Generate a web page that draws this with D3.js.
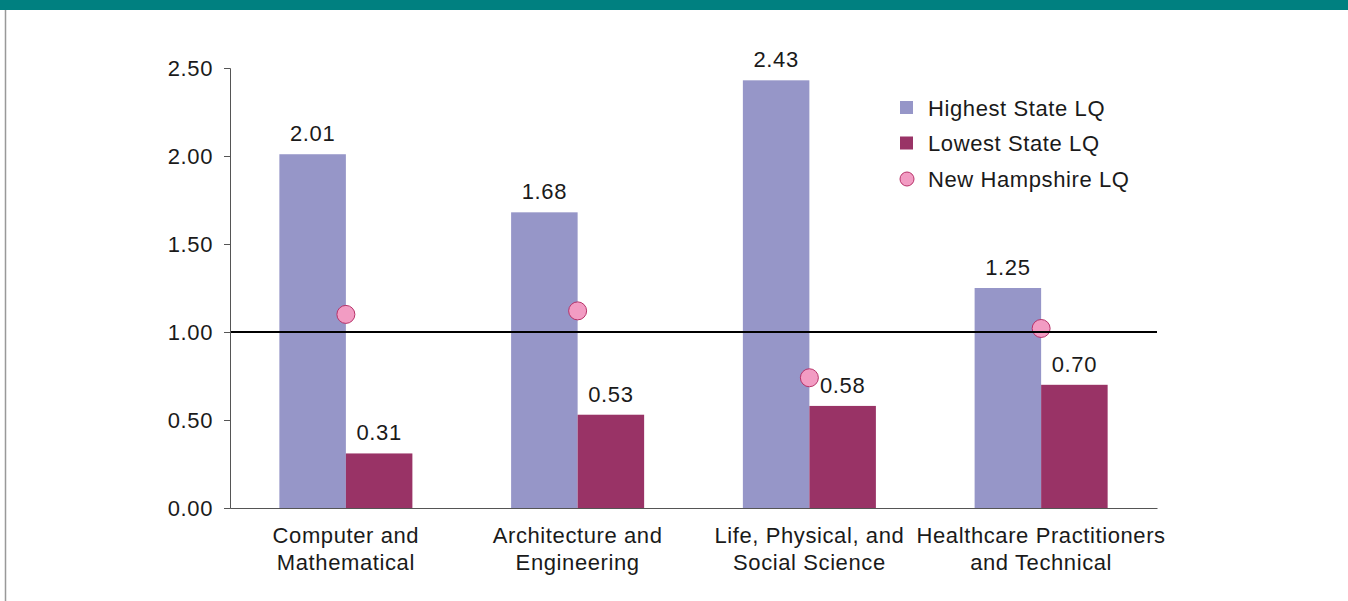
<html>
<head>
<style>
body { margin: 0; background: #fff; }
text { font-family: "Liberation Sans", Arial, sans-serif; fill: #1a1a1a; letter-spacing: 0.6px; }
</style>
</head>
<body>
<div id="chart"></div>
<script src="https://d3js.org/d3.v7.min.js"></script>
<script>

var categories = [["Computer and", "Mathematical"], ["Architecture and", "Engineering"], ["Life, Physical, and", "Social Science"], ["Healthcare Practitioners", "and Technical"]]
var highest = [2.01, 1.68, 2.43, 1.25]
var lowest = [0.31, 0.53, 0.58, 0.70]
var nh = [1.10, 1.12, 0.74, 1.02]
var yTicks = [0, 0.5, 1, 1.5, 2, 2.5]
var seriesNames = ["Highest State LQ", "Lowest State LQ", "New Hampshire LQ"]

var purple = "#9696c8"
var maroon = "#993366"
var pink = "#f29cc3"
var pinkStroke = "#b8336a"
var teal = "#008080"
var fs = "22px"

var W = 1348, H = 601
var margin = {top: 68, left: 230, right: 191, bottom: 93}
var width = W - margin.left - margin.right,
    height = H - margin.top - margin.bottom

var root = d3.select("#chart").append("svg")
    .attr("width", W).attr("height", H)

// frame
root.append("rect").attr("x", 0).attr("y", 0).attr("width", W).attr("height", 10).attr("fill", teal)
root.append("line").attr("x1", 5.5).attr("x2", 5.5).attr("y1", 10).attr("y2", H)
    .attr("stroke", "#999").attr("stroke-width", 1.5)

var svg = root.append("g").attr("transform", "translate(" + margin.left + "," + margin.top + ")")

var x = d3.scaleBand().domain(d3.range(categories.length)).range([0, width]).paddingInner(0).paddingOuter(0)
var y = d3.scaleLinear().domain([0, 2.5]).range([height, 0])
var bw = x.bandwidth() * 0.287

// bars
var groups = svg.selectAll("g.cat").data(categories).enter().append("g")
    .attr("class", "cat")
    .attr("transform", (d, i) => "translate(" + (x(i) + x.bandwidth() / 2) + ",0)")

groups.append("rect")
    .attr("x", -bw).attr("width", bw)
    .attr("y", (d, i) => y(highest[i])).attr("height", (d, i) => height - y(highest[i]))
    .attr("fill", purple)

groups.append("rect")
    .attr("x", 0).attr("width", bw)
    .attr("y", (d, i) => y(lowest[i])).attr("height", (d, i) => height - y(lowest[i]))
    .attr("fill", maroon)

groups.append("text")
    .attr("x", -bw / 2).attr("y", (d, i) => y(highest[i]) - 13)
    .attr("text-anchor", "middle").style("font-size", fs)
    .text((d, i) => highest[i].toFixed(2))

groups.append("text")
    .attr("x", bw / 2).attr("y", (d, i) => y(lowest[i]) - 13)
    .attr("text-anchor", "middle").style("font-size", fs)
    .text((d, i) => lowest[i].toFixed(2))

// reference line at 1.00
svg.append("line")
    .attr("x1", 0).attr("x2", width)
    .attr("y1", y(1)).attr("y2", y(1))
    .attr("stroke", "#000").attr("stroke-width", 2)

groups.append("circle")
    .attr("cx", 0).attr("cy", (d, i) => y(nh[i])).attr("r", 9)
    .attr("fill", pink).attr("stroke", pinkStroke).attr("stroke-width", 1)

// axes
var yAxis = d3.axisLeft(y).tickValues(yTicks).tickFormat(d3.format(".2f")).tickSize(6).tickPadding(11)
var ya = svg.append("g").call(yAxis)
ya.select(".domain").attr("stroke", "#555")
ya.selectAll(".tick line").attr("stroke", "#555")
ya.selectAll("text").style("font-size", fs).style("font-family", "'Liberation Sans', Arial, sans-serif").attr("fill", "#1a1a1a")

var xAxis = d3.axisBottom(x).tickSize(0).tickFormat("")
var xa = svg.append("g").attr("transform", "translate(0," + height + ")").call(xAxis)
xa.select(".domain").attr("stroke", "#555")

groups.append("text")
    .attr("text-anchor", "middle").style("font-size", fs)
    .attr("y", height + 35)
    .selectAll("tspan").data(d => d).enter().append("tspan")
    .attr("x", 0).attr("dy", (d, i) => i == 0 ? 0 : 27)
    .text(d => d)

// legend
var legend = root.append("g").attr("transform", "translate(900,108)")
var items = legend.selectAll("g").data(seriesNames).enter().append("g")
    .attr("transform", (d, i) => "translate(0," + i * 35.5 + ")")
items.filter((d, i) => i < 2).append("rect")
    .attr("x", 0).attr("y", -7).attr("width", 13).attr("height", 13)
    .attr("fill", (d, i) => i == 0 ? purple : maroon)
items.filter((d, i) => i == 2).append("circle")
    .attr("cx", 7).attr("cy", 0).attr("r", 7)
    .attr("fill", pink).attr("stroke", pinkStroke)
items.append("text")
    .attr("x", 28).attr("dy", "0.36em").style("font-size", fs)
    .text(d => d)

</script>
</body>
</html>
